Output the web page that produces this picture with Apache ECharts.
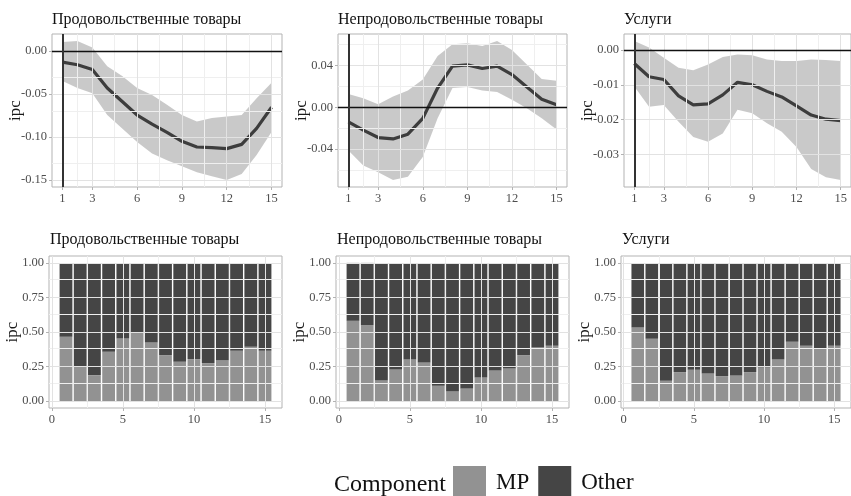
<!DOCTYPE html>
<html><head><meta charset="utf-8">
<script src="https://cdn.jsdelivr.net/npm/echarts@6/dist/echarts.min.js"></script>
<style>html,body{margin:0;padding:0;background:#fff}#c{width:851px;height:496px}</style>
</head><body><div id="c"></div>
<script>
const horizons = [1,2,3,4,5,6,7,8,9,10,11,12,13,14,15];
const panelTitles = ['Продовольственные товары','Непродовольственные товары','Услуги'];

// Impulse responses (top row)
const foodLine  = [-0.013,-0.016,-0.0215,-0.043,-0.0587,-0.0744,-0.085,-0.0947,-0.105,-0.1116,-0.1124,-0.1135,-0.1085,-0.090,-0.0654];
const foodUpper = [0.0106,0.0117,0.004,-0.0176,-0.029,-0.043,-0.051,-0.0626,-0.0744,-0.082,-0.078,-0.076,-0.0744,-0.0548,-0.037];
const foodLower = [-0.035,-0.043,-0.049,-0.0744,-0.090,-0.1057,-0.119,-0.127,-0.134,-0.141,-0.1457,-0.150,-0.143,-0.121,-0.094];

const nonFoodLine  = [-0.0139,-0.0219,-0.029,-0.0303,-0.0258,-0.0106,0.0184,0.0394,0.0406,0.0371,0.0394,0.0313,0.0194,0.0077,0.0023];
const nonFoodUpper = [0.0126,0.0087,0.0029,0.0103,0.0161,0.0265,0.049,0.0603,0.0613,0.0587,0.0635,0.0548,0.041,0.0271,0.0255];
const nonFoodLower = [-0.0413,-0.0558,-0.0623,-0.0697,-0.0665,-0.0477,-0.0106,0.0184,0.0194,0.0161,0.0145,0.0071,-0.001,-0.0106,-0.0213];

const servLine  = [-0.0039,-0.0077,-0.0085,-0.0132,-0.0158,-0.0155,-0.0129,-0.0093,-0.0100,-0.0119,-0.0135,-0.0161,-0.0187,-0.0199,-0.0203];
const servUpper = [0.0026,0.0007,-0.0022,-0.0051,-0.0058,-0.0042,-0.002,-0.0013,-0.0015,-0.0027,-0.0032,-0.0032,-0.0027,-0.0029,-0.0032];
const servLower = [-0.0105,-0.0163,-0.0158,-0.0206,-0.025,-0.0264,-0.024,-0.0172,-0.0182,-0.0211,-0.0235,-0.0279,-0.0342,-0.0366,-0.0374];

// Variance shares (bottom row)
const foodMP       = [0.465,0.248,0.188,0.357,0.453,0.496,0.424,0.333,0.284,0.304,0.275,0.296,0.364,0.393,0.364];
const foodOther    = [0.535,0.752,0.812,0.643,0.547,0.504,0.576,0.667,0.716,0.696,0.725,0.704,0.636,0.607,0.636];
const nonFoodMP    = [0.581,0.549,0.149,0.229,0.301,0.280,0.111,0.072,0.092,0.171,0.222,0.236,0.333,0.388,0.400];
const nonFoodOther = [0.419,0.451,0.851,0.771,0.699,0.720,0.889,0.928,0.908,0.829,0.778,0.764,0.667,0.612,0.600];
const servMP       = [0.533,0.451,0.147,0.210,0.227,0.200,0.181,0.186,0.210,0.243,0.301,0.429,0.400,0.378,0.400];
const servOther    = [0.467,0.549,0.853,0.790,0.773,0.800,0.819,0.814,0.790,0.757,0.699,0.571,0.600,0.622,0.600];

// Tick labels
const topXTicks = [1,3,6,9,12,15];
const topXMinor = [2,4.5,7.5,10.5,13.5];
const foodYTicks = [-0.15,-0.10,-0.05,0.00];
const foodYMinor = [-0.125,-0.075,-0.025];
const nonFoodYTicks = [-0.04,0.00,0.04];
const nonFoodYMinor = [-0.06,-0.02,0.02,0.06];
const servYTicks = [-0.03,-0.02,-0.01,0.00];
const servYMinor = [-0.035,-0.025,-0.015,-0.005];
const botXTicks = [0,5,10,15];
const botXMinor = [2.5,7.5,12.5];
const botYTicks = [0.00,0.25,0.50,0.75,1.00];
const botYMinor = [0.125,0.375,0.625,0.875];
const legendNames = ['MP','Other'];

// ---------- styling / layout ----------
const FONT = '"Liberation Serif", "DejaVu Serif", serif';
const MP_COLOR = '#929292', OTHER_COLOR = '#454545';
const BAND = 'rgba(0,0,0,0.21)', LINE = '#3d3d3d';
const GRID_MAJOR = '#E2E2E2', GRID_MINOR = '#EFEFEF', BORDER = '#B3B3B3';
const BAR_HALF = 0.45;

const grids = [
  {left:52, top:34, width:230, height:153},
  {left:338, top:34, width:229, height:153},
  {left:624, top:34, width:227, height:153},
  {left:49, top:256, width:233, height:152},
  {left:336, top:256, width:233, height:152},
  {left:621, top:256, width:230, height:152}
].map(g => Object.assign({show:true, borderColor:BORDER, borderWidth:1, backgroundColor:'#fff',
  containLabel:false, outerBoundsMode:'none'}, g));

const topSets = [
  {line:foodLine, lo:foodLower, hi:foodUpper, yt:foodYTicks, ym:foodYMinor},
  {line:nonFoodLine, lo:nonFoodLower, hi:nonFoodUpper, yt:nonFoodYTicks, ym:nonFoodYMinor},
  {line:servLine, lo:servLower, hi:servUpper, yt:servYTicks, ym:servYMinor}
];
const botSets = [
  {mp:foodMP, other:foodOther},
  {mp:nonFoodMP, other:nonFoodOther},
  {mp:servMP, other:servOther}
];

function expand(lo, hi) { const d = (hi - lo) * 0.05; return [lo - d, hi + d]; }

const xAxes = [], yAxes = [], series = [], titles = [];
const labelStyle = {fontFamily:FONT, fontSize:12.5, color:'#4D4D4D'};

function axisX(i, min, max, ticks, fmt) {
  return {type:'value', gridIndex:i, min, max,
    axisLine:{show:false, onZero:false},
    axisTick:{show:true, customValues:ticks, length:3, lineStyle:{color:BORDER}},
    axisLabel:Object.assign({customValues:ticks, margin:5, formatter:fmt}, labelStyle),
    splitLine:{show:false}};
}
function axisY(i, min, max, ticks, fmt) {
  return {type:'value', gridIndex:i, min, max,
    name:'ipc', nameLocation:'middle', nameGap:28, nameRotate:90, nameMoveOverlap:false,
    nameTextStyle:{fontFamily:FONT, fontSize:17, color:'#1a1a1a'},
    axisLine:{show:false, onZero:false},
    axisTick:{show:true, customValues:ticks, length:3, lineStyle:{color:BORDER}},
    axisLabel:Object.assign({customValues:ticks, margin:5, formatter:fmt}, labelStyle),
    splitLine:{show:false}};
}
function gridLineSeries(i, xm, xn, ym, yn) {
  const d = [];
  xn.forEach(v => d.push({xAxis:v, lineStyle:{color:GRID_MINOR, width:1, type:'solid'}}));
  yn.forEach(v => d.push({yAxis:v, lineStyle:{color:GRID_MINOR, width:1, type:'solid'}}));
  xm.forEach(v => d.push({xAxis:v, lineStyle:{color:GRID_MAJOR, width:1, type:'solid'}}));
  ym.forEach(v => d.push({yAxis:v, lineStyle:{color:GRID_MAJOR, width:1, type:'solid'}}));
  return {type:'line', xAxisIndex:i, yAxisIndex:i, data:[], z:1, silent:true,
    markLine:{silent:true, symbol:['none','none'], label:{show:false}, animation:false, data:d}};
}

// top row
topSets.forEach((s, i) => {
  const all = s.lo.concat(s.hi, s.line);
  const yr = expand(Math.min(...all), Math.max(...all));
  xAxes.push(axisX(i, 0.3, 15.7, topXTicks, v => String(v)));
  yAxes.push(axisY(i, yr[0], yr[1], s.yt, v => v.toFixed(2)));
  series.push(gridLineSeries(i, topXTicks, topXMinor, s.yt, s.ym));
  series.push({type:'custom', xAxisIndex:i, yAxisIndex:i, z:2, silent:true,
    data: horizons.map((h,k) => [h, s.lo[k], s.hi[k]]), encode:{x:0, y:[1,2]},
    renderItem: (params, api) => {
      if (params.dataIndex !== 0) return;
      const pts = [];
      horizons.forEach((h,k) => pts.push(api.coord([h, s.hi[k]])));
      for (let k = horizons.length - 1; k >= 0; k--) pts.push(api.coord([horizons[k], s.lo[k]]));
      return {type:'polygon', shape:{points:pts}, style:{fill:BAND}};
    }});
  series.push({type:'line', xAxisIndex:i, yAxisIndex:i, data:[], z:3, silent:true,
    markLine:{silent:true, symbol:['none','none'], label:{show:false}, animation:false,
      data:[{yAxis:0, lineStyle:{color:'#111', width:1.4, type:'solid'}},
            {xAxis:1, lineStyle:{color:'#333', width:2, type:'solid'}}]}});
  series.push({type:'line', xAxisIndex:i, yAxisIndex:i, z:4, silent:true, symbol:'none',
    data: horizons.map((h,k) => [h, s.line[k]]), lineStyle:{color:LINE, width:3.2}});
  titles.push({text:panelTitles[i], left:grids[i].left, top:12, padding:0,
    textStyle:{fontFamily:FONT, fontSize:16, fontWeight:'normal', color:'#111'}});
});

// bottom row
const barXr = expand(horizons[0] - BAR_HALF, horizons[horizons.length-1] + BAR_HALF);
const barYr = expand(0, 1);
botSets.forEach((s, j) => {
  const i = j + 3;
  xAxes.push(axisX(i, barXr[0], barXr[1], botXTicks, v => String(v)));
  yAxes.push(axisY(i, barYr[0], barYr[1], botYTicks, v => v.toFixed(2)));
  series.push(gridLineSeries(i, botXTicks, botXMinor, botYTicks, botYMinor));
  const barRender = color => (params, api) => {
    const x = api.value(0), lo = api.value(1), hi = api.value(2);
    const p0 = api.coord([x - BAR_HALF, hi]);
    const p1 = api.coord([x + BAR_HALF, lo]);
    return {type:'rect', shape:{x:p0[0], y:p0[1], width:p1[0]-p0[0], height:p1[1]-p0[1]}, style:{fill:color}};
  };
  series.push({name:legendNames[0], type:'custom', xAxisIndex:i, yAxisIndex:i, z:2, silent:true,
    itemStyle:{color:MP_COLOR},
    data: horizons.map((h,k) => [h, 0, s.mp[k]]), encode:{x:0, y:[1,2]}, renderItem: barRender(MP_COLOR)});
  series.push({name:legendNames[1], type:'custom', xAxisIndex:i, yAxisIndex:i, z:2, silent:true,
    itemStyle:{color:OTHER_COLOR},
    data: horizons.map((h,k) => [h, s.mp[k], s.mp[k] + s.other[k]]), encode:{x:0, y:[1,2]}, renderItem: barRender(OTHER_COLOR)});
  titles.push({text:panelTitles[j], left:grids[i].left + 1, top:232, padding:0,
    textStyle:{fontFamily:FONT, fontSize:16, fontWeight:'normal', color:'#111'}});
});

const chart = echarts.init(document.getElementById('c'), null, {renderer:'canvas'});
chart.setOption({
  animation:false,
  backgroundColor:'#fff',
  title:titles,
  grid:grids,
  xAxis:xAxes,
  yAxis:yAxes,
  legend:{left:453, top:466, padding:0, itemWidth:33, itemHeight:33, itemGap:9, selectedMode:false,
    data:[{name:'MP', icon:'rect', itemStyle:{color:MP_COLOR}}, {name:'Other', icon:'rect', itemStyle:{color:OTHER_COLOR}}],
    textStyle:{fontFamily:FONT, fontSize:23, color:'#111', padding:[0,0,0,5]}},
  graphic:[{type:'text', x:446, y:485, silent:true,
    style:{text:'Component', fontFamily:FONT, fontSize:24, fill:'#111', align:'right', verticalAlign:'middle'}}],
  series
});
</script></body></html>
